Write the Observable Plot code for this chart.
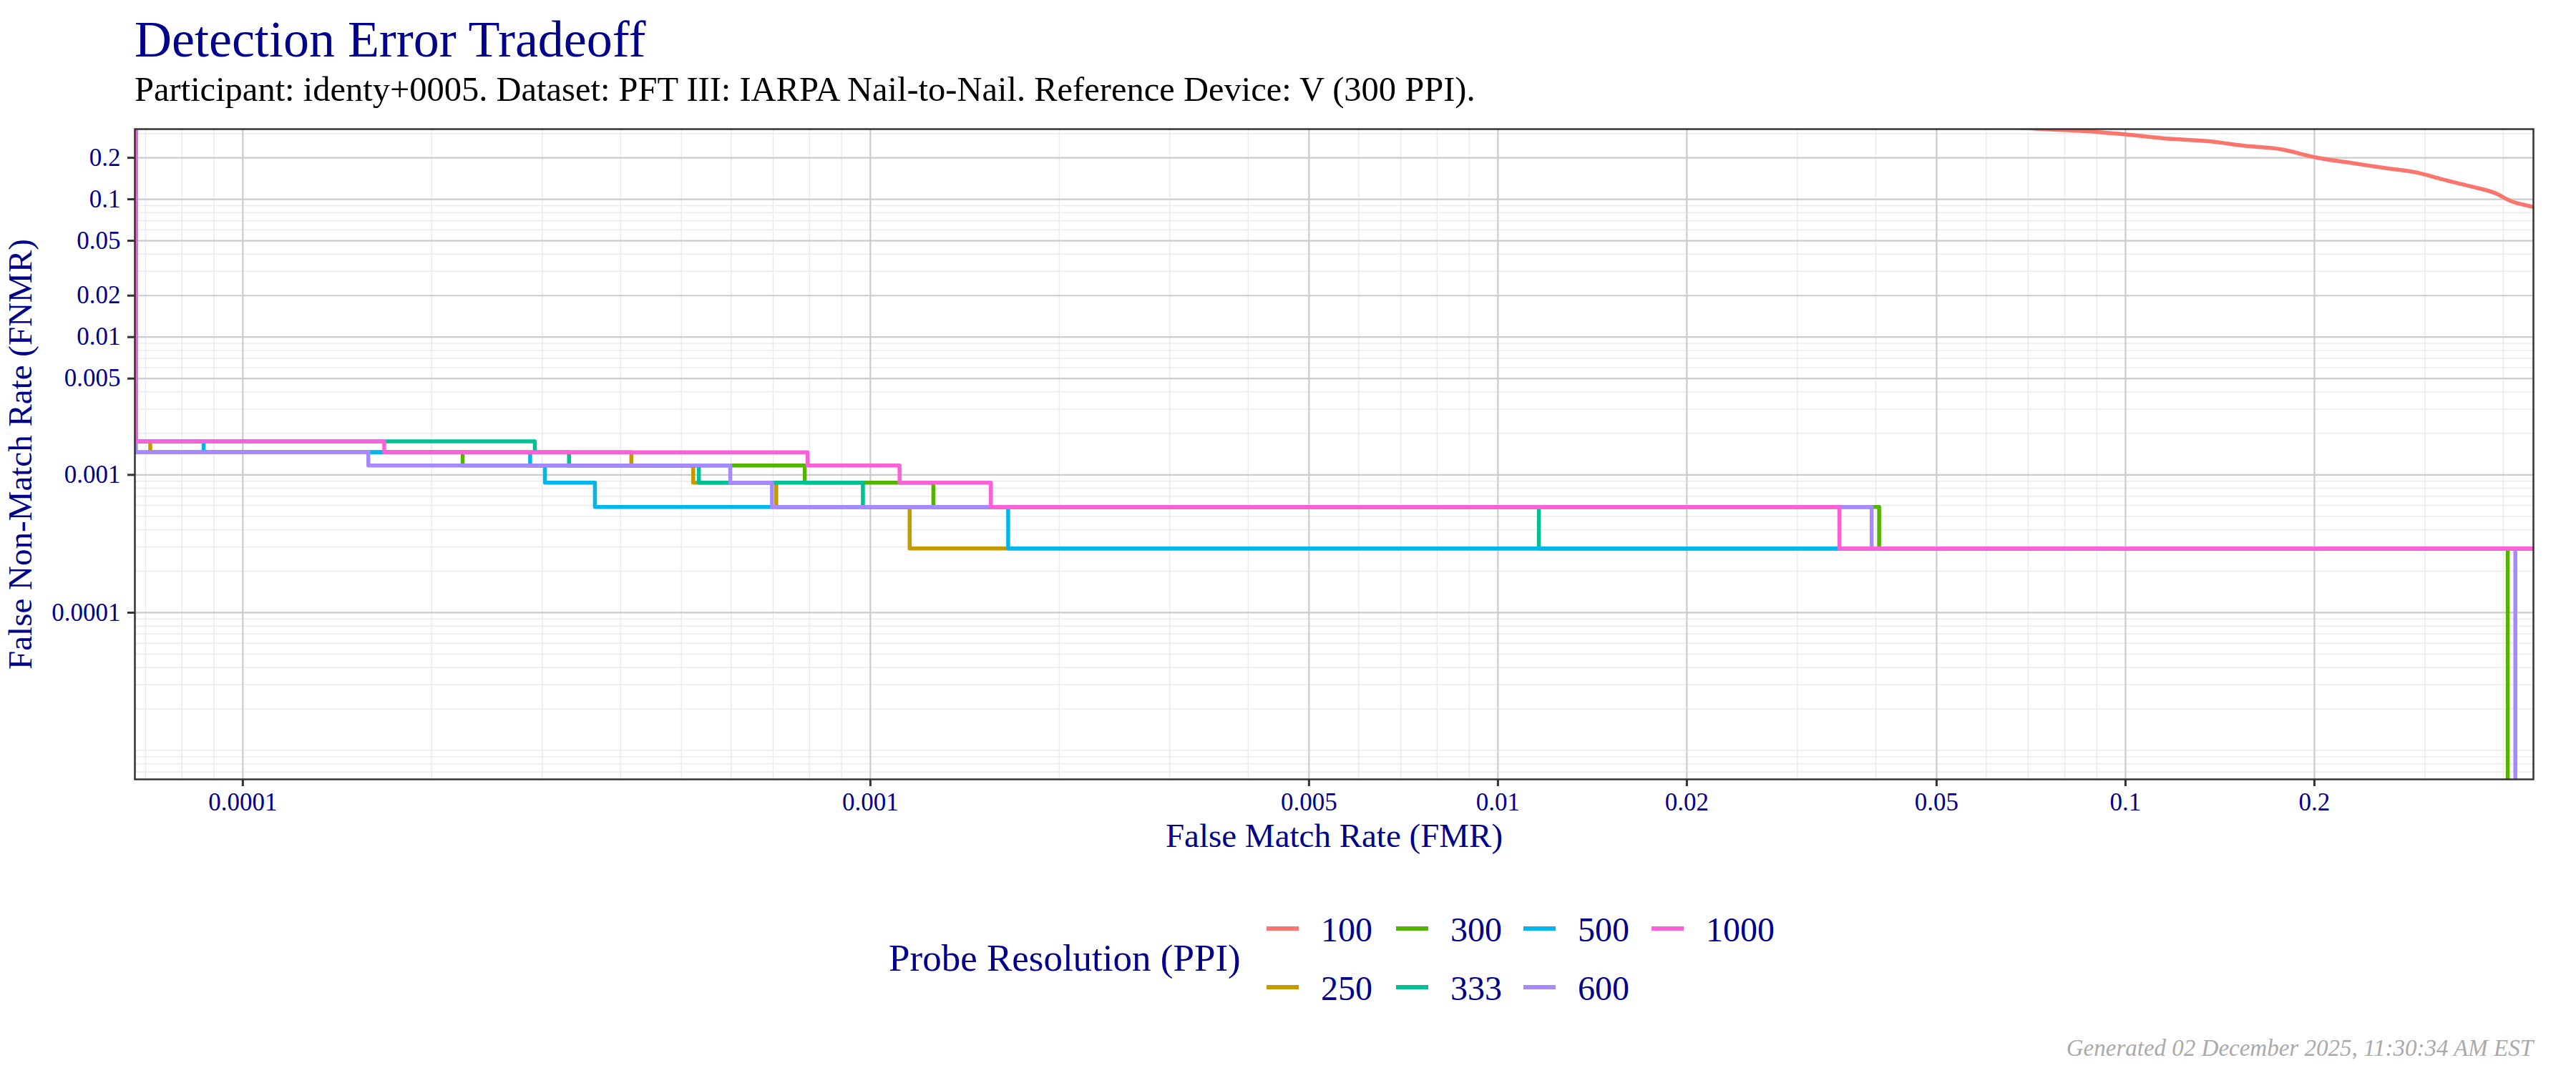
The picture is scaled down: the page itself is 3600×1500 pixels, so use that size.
<!DOCTYPE html>
<html><head><meta charset="utf-8">
<script src="https://cdn.jsdelivr.net/npm/d3@7"></script>
<script src="https://cdn.jsdelivr.net/npm/@observablehq/plot@0.6"></script>
<style>
body{margin:0;background:#fff;}
#root{position:relative;width:3600px;height:1500px;font-family:"Liberation Serif",serif;overflow:hidden;background:#fff;}
.t{position:absolute;white-space:nowrap;line-height:1;}
</style></head><body><div id="root"></div>
<script>
// ---------- data ----------
const ppiLevels = ["100","250","300","333","500","600","1000"];
const ppiColors = ["#F8766D","#C49A00","#53B400","#00C094","#00B6EB","#A58AFF","#FB61D7"];
const xTicks = [0.0001,0.001,0.005,0.01,0.02,0.05,0.1,0.2];
const yTicks = [0.0001,0.001,0.005,0.01,0.02,0.05,0.1,0.2];

// 100 PPI (smooth curve)
const fmr100  = [0.05,0.0739,0.0899,0.0997,0.1145,0.137,0.1546,0.1772,0.2,0.229,0.262,0.291,0.319,0.3544,0.388,0.4123,0.4444,0.47];
const fnmr100 = [0.36,0.323,0.308,0.296,0.2776,0.2627,0.2445,0.2303,0.202,0.1835,0.1674,0.1564,0.14,0.1242,0.111,0.0966,0.0885,0.083];

// step curves: FMR where FNMR changes, and the FNMR from there on
const fmr250  = [6.75e-5,6.75e-5,7.12e-5,4.16e-4,5.22e-4,7.08e-4,1.155e-3,1];
const fnmr250 = [1,0.00175,0.00146,0.00117,0.000877,0.000585,0.000292,0.000292];

const fmr300  = [6.75e-5,6.75e-5,2.24e-4,7.86e-4,1.26e-3,0.0405,0.4065];
const fnmr300 = [1,0.00146,0.00117,0.000877,0.000585,0.000292,0];

const fmr333  = [6.75e-5,6.75e-5,2.92e-4,3.31e-4,5.33e-4,9.73e-4,0.01162,1];
const fnmr333 = [1,0.00175,0.00146,0.00117,0.000877,0.000585,0.000292,0.000292];

const fmr500  = [6.75e-5,6.75e-5,8.66e-5,2.87e-4,3.03e-4,3.64e-4,1.658e-3,1];
const fnmr500 = [1,0.00175,0.00146,0.00117,0.000877,0.000585,0.000292,0.000292];

const fmr600  = [6.75e-5,6.75e-5,1.585e-4,5.98e-4,6.97e-4,0.0394,0.418];
const fnmr600 = [1,0.00146,0.00117,0.000877,0.000585,0.000292,0];

const fmr1000  = [6.75e-5,6.75e-5,1.68e-4,7.94e-4,1.113e-3,1.556e-3,0.035,1];
const fnmr1000 = [1,0.00175,0.00146,0.00117,0.000877,0.000585,0.000292,0.000292];

const xDomain = [6.73e-5, 0.4467];
const yDomain = [6.17e-6, 0.323];

// ---------- build ----------
const FLOOR = 1e-8; // FNMR of 0 cannot sit on a log axis; drawn below the panel and clipped
const table = (ppi, fmr, fnmr) => fmr.map((x, i) => ({ppi, fmr: x, fnmr: fnmr[i]}));
const curve100 = table("100", fmr100, fnmr100);
const steps = [
  table("250", fmr250, fnmr250),
  table("300", fmr300, fnmr300),
  table("333", fmr333, fnmr333),
  table("500", fmr500, fnmr500),
  table("600", fmr600, fnmr600),
  table("1000", fmr1000, fnmr1000)
];

const NAVY = "#00008B";
const minorX = d3.scaleLog().domain(xDomain).ticks();
const minorY = d3.scaleLog().domain(yDomain).ticks();
const fmt = d => String(d);

const plot = Plot.plot({
  width: 3600, height: 1050,
  marginTop: 20, marginLeft: 188, marginRight: 60, marginBottom: 121,
  style: {fontFamily: "'Liberation Serif', serif", fontSize: "35px", background: "transparent"},
  x: {type: "log", domain: xDomain},
  y: {type: "log", domain: yDomain},
  color: {domain: ppiLevels, range: ppiColors},
  marks: [
    Plot.gridX(minorX, {stroke: "#ebebeb", strokeOpacity: 1, strokeWidth: 1.5}),
    Plot.gridY(minorY, {stroke: "#ebebeb", strokeOpacity: 1, strokeWidth: 1.5}),
    Plot.gridX(xTicks, {stroke: "#cccccc", strokeOpacity: 1, strokeWidth: 2.2}),
    Plot.gridY(yTicks, {stroke: "#cccccc", strokeOpacity: 1, strokeWidth: 2.2}),
    Plot.line(curve100, {x: "fmr", y: "fnmr", stroke: "ppi", strokeWidth: 5.5, curve: "monotone-x", clip: true}),
    ...steps.map(s => Plot.line(s, {x: "fmr", y: d => Math.max(d.fnmr, FLOOR), stroke: "ppi",
      strokeWidth: 5.5, curve: "step-after", clip: true})),
    Plot.frame({stroke: "#333333", strokeWidth: 2.5}),
    Plot.axisX(xTicks, {tickFormat: fmt, tickSize: 10, tickPadding: 9, stroke: "#333333", strokeWidth: 3,
      fill: NAVY, fontSize: 35, label: null}),
    Plot.axisY(yTicks, {tickFormat: fmt, tickSize: 10, tickPadding: 10, stroke: "#333333", strokeWidth: 3,
      fill: NAVY, fontSize: 35, label: null}),
    Plot.text(["False Match Rate (FMR)"], {frameAnchor: "bottom", dy: 94, textAnchor: "middle", fontSize: 47, fill: NAVY}),
    Plot.text(["False Non-Match Rate (FNMR)"], {frameAnchor: "left", dx: -160, rotate: -90, textAnchor: "middle", fontSize: 47, fill: NAVY})
  ]
});

const root = document.getElementById("root");
plot.style.position = "absolute";
plot.style.left = "0px";
plot.style.top = "160px";
root.appendChild(plot);

function addText(txt, left, top, size, color, extra) {
  const d = document.createElement("div");
  d.className = "t";
  d.textContent = txt;
  d.style.left = left + "px";
  d.style.top = top + "px";
  d.style.fontSize = size + "px";
  d.style.color = color;
  if (extra) Object.assign(d.style, extra);
  root.appendChild(d);
  return d;
}

// baseline = top + 0.8375 * size for Liberation Serif at line-height 1
addText("Detection Error Tradeoff", 188, 79 - 0.8375 * 72, 72, NAVY);
addText("Participant: identy+0005. Dataset: PFT III: IARPA Nail-to-Nail. Reference Device: V (300 PPI).", 188, 142 - 0.8375 * 48.5, 48.5, "#000000");

// legend
addText("Probe Resolution (PPI)", 1242, 1357 - 0.8375 * 53, 53, NAVY);
const legendOrder = ["100","250","300","333","500","600","1000"];
const colX = [1770, 1951, 2129, 2308];
const rowY = [1298, 1380];
legendOrder.forEach((k, i) => {
  const col = Math.floor(i / 2), row = i % 2;
  const sw = document.createElement("div");
  sw.style.position = "absolute";
  sw.style.left = colX[col] + "px";
  sw.style.top = (rowY[row] - 3) + "px";
  sw.style.width = "45px";
  sw.style.height = "6px";
  sw.style.background = ppiColors[ppiLevels.indexOf(k)];
  root.appendChild(sw);
  addText(k, colX[col] + 76, rowY[row] + 18 - 0.8375 * 48, 48, NAVY);
});

// caption
addText("Generated 02 December 2025, 11:30:34 AM EST", 0, 1477 - 0.8375 * 33, 33, "#aaaaaa",
  {left: "auto", right: "60px", fontStyle: "italic"});
</script></body></html>
